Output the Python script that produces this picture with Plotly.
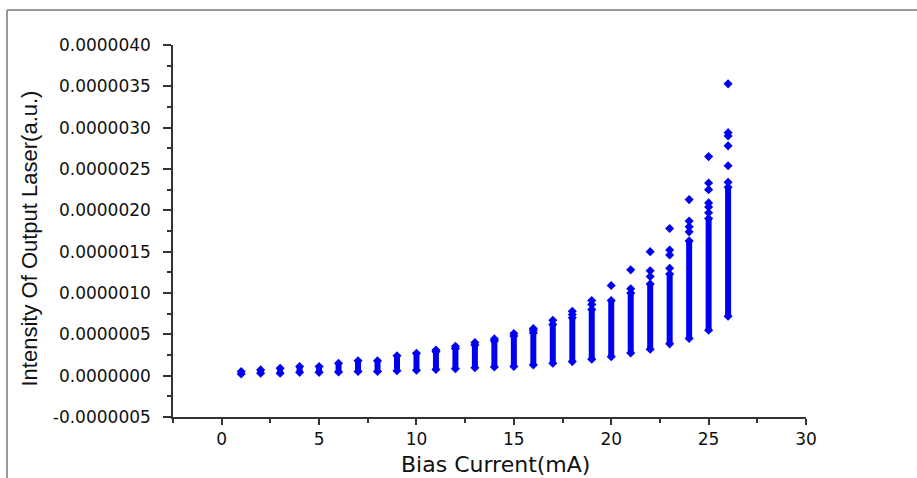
import plotly.graph_objects as go

# ---- data (intensity in units of 1e-6 a.u.) ----
bias_current = list(range(1, 27))
dense_low = [0.02, 0.03, 0.03, 0.04, 0.04, 0.045, 0.05, 0.05, 0.06, 0.065,
             0.075, 0.085, 0.095, 0.105, 0.11, 0.13, 0.15, 0.17, 0.20, 0.23,
             0.275, 0.32, 0.385, 0.45, 0.55, 0.72]
dense_high = [0.05, 0.07, 0.09, 0.11, 0.11, 0.15, 0.18, 0.18, 0.24, 0.27,
              0.29, 0.33, 0.37, 0.42, 0.48, 0.52, 0.62, 0.70, 0.80, 0.91,
              1.00, 1.11, 1.23, 1.63, 1.90, 2.28]
upper_points = [[], [], [], [], [], [], [], [], [], [],
                [0.31], [0.355], [0.40], [0.445], [0.51], [0.55, 0.57], [0.67],
                [0.74, 0.78], [0.86, 0.91], [1.09], [1.05, 1.28],
                [1.20, 1.27, 1.50], [1.30, 1.46, 1.52, 1.78],
                [1.74, 1.80, 1.87, 2.13], [1.97, 2.04, 2.09, 2.25, 2.33, 2.65],
                [2.34, 2.54, 2.78, 2.90, 2.94, 3.53]]
UNIT = 1e-6

y_tick_values = [-0.5, 0.0, 0.5, 1.0, 1.5, 2.0, 2.5, 3.0, 3.5, 4.0]
y_tick_labels = ["-0.0000005", "0.0000000", "0.0000005", "0.0000010", "0.0000015",
                 "0.0000020", "0.0000025", "0.0000030", "0.0000035", "0.0000040"]
x_tick_values = [0, 5, 10, 15, 20, 25, 30]

x_title = "Bias Current(mA)"
y_title = "Intensity Of Output Laser(a.u.)"

BLUE = "#0000f0"
FONT = "DejaVu Sans"

# ---- traces ----
seg_x, seg_y = [], []
for xv, lo, hi in zip(bias_current, dense_low, dense_high):
    seg_x += [xv, xv, None]
    seg_y += [lo * UNIT, hi * UNIT, None]

pt_x, pt_y = [], []
for xv, lo, hi, ups in zip(bias_current, dense_low, dense_high, upper_points):
    for v in [lo, hi] + ups:
        pt_x.append(xv)
        pt_y.append(v * UNIT)

fig = go.Figure()
fig.add_trace(go.Scatter(x=seg_x, y=seg_y, mode="lines",
                         line=dict(color=BLUE, width=6), hoverinfo="skip",
                         showlegend=False))
fig.add_trace(go.Scatter(x=pt_x, y=pt_y, mode="markers",
                         marker=dict(symbol="diamond", size=7, color=BLUE),
                         showlegend=False))

# ---- layout geometry ----
L, R, T, B = 173, 111, 45, 61
W, H = 917, 478
pw, ph = W - L - R, H - T - B


def px_to_paper_x(px):
    return (px - L) / pw


def px_to_paper_y(py):
    return (H - B - py) / ph


axis_common = dict(showline=True, linecolor="#333333", linewidth=1.5,
                   ticks="outside", tickwidth=1.5, tickcolor="#333333",
                   showgrid=False, zeroline=False, mirror=False,
                   tickfont=dict(family=FONT, size=17, color="#111111"))

fig.update_layout(
    width=W, height=H,
    margin=dict(l=L, r=R, t=T, b=B, pad=0),
    paper_bgcolor="white", plot_bgcolor="white",
    xaxis=dict(range=[-2.5, 30], tickmode="array", tickvals=x_tick_values,
               ticktext=[str(v) for v in x_tick_values], ticklen=6,
               ticklabelstandoff=0,
               minor=dict(tickmode="linear", tick0=0, dtick=2.5, ticks="outside",
                          ticklen=4, tickwidth=1.5, tickcolor="#333333"),
               **axis_common),
    yaxis=dict(range=[-0.5 * UNIT, 4.0 * UNIT], tickmode="array",
               tickvals=[v * UNIT for v in y_tick_values], ticktext=y_tick_labels,
               ticklen=8, ticklabelstandoff=9,
               minor=dict(tickmode="linear", tick0=0, dtick=0.25 * UNIT,
                          ticks="outside", ticklen=4, tickwidth=1.5,
                          tickcolor="#333333"),
               **axis_common),
    showlegend=False,
)

fig.add_annotation(text=x_title, xref="paper", yref="paper",
                   x=px_to_paper_x(495), y=px_to_paper_y(465),
                   xanchor="center", yanchor="middle", showarrow=False,
                   font=dict(family=FONT, size=22, color="#111111"))
fig.add_annotation(text=y_title, xref="paper", yref="paper",
                   x=px_to_paper_x(28.5), y=px_to_paper_y(239), textangle=-90,
                   xanchor="center", yanchor="middle", showarrow=False,
                   font=dict(family="Liberation Sans", size=22, color="#111111"))

# outer frame (top and left edges)
frame = dict(type="line", xref="paper", yref="paper",
             line=dict(color="#9a9a9a", width=2))
fig.add_shape(x0=px_to_paper_x(7), x1=px_to_paper_x(917),
              y0=px_to_paper_y(10), y1=px_to_paper_y(10), **frame)
fig.add_shape(x0=px_to_paper_x(7), x1=px_to_paper_x(7),
              y0=px_to_paper_y(10), y1=px_to_paper_y(478), **frame)

fig.write_html("out.html")
